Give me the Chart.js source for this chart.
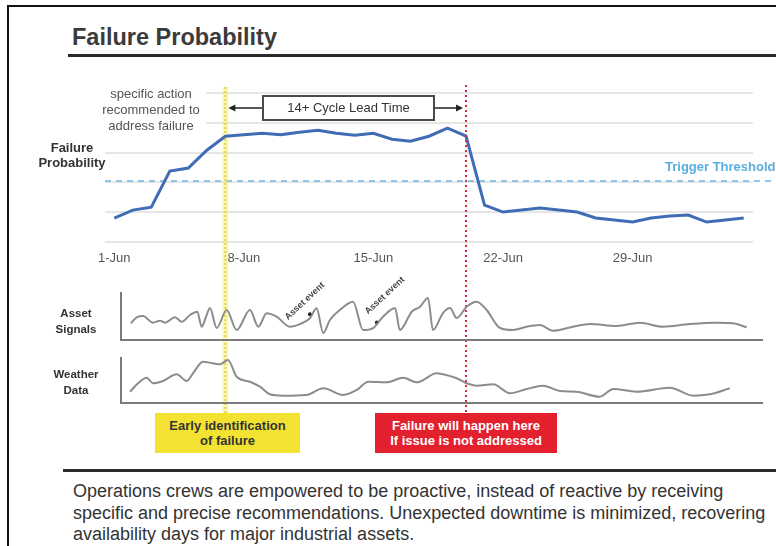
<!DOCTYPE html>
<html>
<head>
<meta charset="utf-8">
<script src="https://cdn.jsdelivr.net/npm/chart.js"></script>
<style>
  body { margin: 0; background: #fff; }
  #page { position: relative; width: 776px; height: 546px; overflow: hidden; background: #fff;
          font-family: "Liberation Sans", Arial, Helvetica, sans-serif; color: #333; }
  .abs { position: absolute; }
  .frame { left: 7px; top: 5px; width: 900px; height: 700px; border-left: 2px solid #111; border-top: 2px solid #111; }
  .rule { background: #2a2a2a; height: 3px; width: 800px; }
  #title { left: 72px; top: 23px; font-size: 23.5px; line-height: 28px; font-weight: bold; color: #3b3b3b; white-space: nowrap; }
  #ylab { left: 30px; width: 84px; top: 140px; text-align: center; font-size: 13px; line-height: 15px; font-weight: bold; color: #333; }
  #note { left: 96px; width: 110px; top: 86px; text-align: center; font-size: 13px; line-height: 16px; color: #555; background: #fff; }
  #leadbox { left: 262px; top: 95px; width: 173px; height: 26px; box-sizing: border-box; border: 2px solid #4a4a4a;
             background: #fff; text-align: center; font-size: 13px; line-height: 22px; color: #333; }
  .plab { left: 40px; width: 72px; text-align: center; font-size: 11.5px; line-height: 16px; font-weight: bold; color: #333; }
  .tag { height: 40px; box-sizing: border-box; padding-top: 5px; text-align: center; font-size: 13px; line-height: 15px; font-weight: bold; }
  #early { left: 155px; top: 413px; width: 145px; background: #f3e232; color: #333; }
  #fail { left: 375px; top: 413px; width: 182px; background: #e2202e; color: #fff; }
  #para { left: 73px; top: 481px; font-size: 18px; line-height: 21.5px; color: #333; white-space: nowrap; }
  canvas { position: absolute; left: 0; }
</style>
</head>
<body>
<div id="page">
  <div class="abs frame"></div>
  <div class="abs" id="title">Failure Probability</div>
  <div class="abs rule" style="left:68px;top:54px"></div>

  <canvas id="mainChart" width="776" height="335" style="top:80px"></canvas>
  <canvas id="assetChart" width="776" height="85" style="top:265px"></canvas>
  <canvas id="weatherChart" width="776" height="70" style="top:345px"></canvas>

  <div class="abs" id="ylab">Failure<br>Probability</div>
  <div class="abs" id="note">specific action<br>recommended to<br>address failure</div>
  <div class="abs" id="leadbox">14+ Cycle Lead Time</div>
  <div class="abs plab" style="top:305px">Asset<br>Signals</div>
  <div class="abs plab" style="top:366px">Weather<br>Data</div>
  <div class="abs tag" id="early">Early identification<br>of failure</div>
  <div class="abs tag" id="fail">Failure will happen here<br>If issue is not addressed</div>
  <div class="abs rule" style="left:63px;top:469px"></div>
  <div class="abs" id="para">Operations crews are empowered to be proactive, instead of reactive by receiving<br>specific and precise recommendations. Unexpected downtime is minimized, recovering<br>availability days for major industrial assets.</div>
</div>

<script>
// days counted from 1-Jun (0)
const tickDays = [0, 7, 14, 21, 28];
const tickLabels = ['1-Jun', '8-Jun', '15-Jun', '22-Jun', '29-Jun'];

// failure probability (%) per day
const failureProb = [16.1, 21.4, 23.4, 47.6, 49.6, 61.6, 71, 72, 73, 72, 73.7, 75, 73, 71.7, 73, 69, 67.7,
  71, 76.4, 71, 24.8, 20.1, 21.4, 22.8, 21.4, 20.1, 16.1, 14.7, 13.4, 16.1, 17.4, 18.1, 13.4, 14.7, 16.1];
const thresholdValue = 41;
const earlyDay = 6;     // 7-Jun
const failureDay = 19;  // 20-Jun
const leadArrowValue = 90;

// asset signals
const assetDays = [0.89, 1.21, 1.55, 2.09, 2.47, 2.74, 3.28, 3.64, 4.09, 4.48, 4.72, 4.99, 5.17, 5.53, 6.07, 6.61,
  7.33, 7.78, 8.23, 8.77, 9.49, 10.12, 10.57, 10.93, 11.29, 11.65, 12.19, 12.9, 13.44, 13.98, 14.52, 15.17, 15.43,
  16.07, 16.52, 16.95, 17.22, 17.76, 18.14, 18.5, 19.04, 19.58, 20.12, 20.84, 21.54, 22.28, 23, 23.7, 24.78, 25.7,
  27.14, 28.4, 29.64, 31.1, 32.54, 33.43, 34.17];
const assetValues = [35.5, 48.3, 51.1, 36.8, 41.1, 36.8, 48.3, 38.9, 53.2, 60.2, 28.3, 53.2, 68.1, 25.5, 63.8, 21.3,
  63.8, 28.3, 56.8, 49.6, 28.3, 35.5, 46.2, 67.4, 14.9, 42.6, 63.8, 81.5, 21.3, 25.5, 49.6, 68.1, 21.3,
  60.2, 70.9, 89.4, 21.3, 57.4, 68.1, 46.8, 70.9, 81.5, 63.8, 25.5, 21.3, 28.3, 31.9, 19.8, 28.3, 34,
  29.8, 36.8, 28.3, 34, 36.8, 35.5, 27];
const assetEventDays = [10.57, 14.19];
const assetEventValues = [55, 37];
const assetEventLabels = ['Asset event', 'Asset event'];

// weather data
const weatherDays = [0.85, 1.28, 1.75, 2.09, 2.63, 3.37, 3.91, 4.25, 4.79, 5.33, 5.71, 6.14, 6.61, 7.33, 7.87, 8.41,
  9.11, 10.39, 11.29, 12.37, 13.1, 13.72, 14.72, 15.61, 16.34, 17.42, 17.77, 18.5, 19.04, 19.58, 20.48, 21.38,
  22.28, 23.18, 24.08, 24.98, 26.24, 26.96, 28.22, 30.02, 31.28, 32.18, 33.26];
const weatherValues = [25.1, 43.8, 56.2, 43.8, 48.9, 63.8, 48.9, 66, 91.8, 88.2, 86, 95.6, 58.4, 47.3, 36.2, 19.3,
  16.2, 17.8, 32.7, 17.8, 28.9, 47.3, 46, 56.2, 46, 66, 63.8, 54.9, 43.8, 38.4, 41.6, 21.6,
  31.1, 38.4, 26.7, 25.1, 14, 31.1, 25.1, 34, 16.2, 19.3, 32.7];

const FONT = '"Liberation Sans", Arial, Helvetica, sans-serif';

const mainMarks = {
  id: 'mainMarks',
  beforeDatasetsDraw(chart) {
    const { ctx, chartArea, scales: { x, y } } = chart;
    ctx.save();
    // trigger threshold
    const ty = y.getPixelForValue(thresholdValue);
    ctx.strokeStyle = '#6cb4e0';
    ctx.lineWidth = 1.5;
    ctx.setLineDash([6, 5]);
    ctx.beginPath();
    ctx.moveTo(chartArea.left, ty);
    ctx.lineTo(chart.width, ty);
    ctx.stroke();
    // early identification line
    const yx = x.getPixelForValue(earlyDay);
    ctx.setLineDash([]);
    ctx.strokeStyle = 'rgba(246,234,110,0.45)';
    ctx.lineWidth = 6;
    ctx.beginPath();
    ctx.moveTo(yx, chartArea.top - 6);
    ctx.lineTo(yx, chart.height);
    ctx.stroke();
    ctx.strokeStyle = '#e6d52a';
    ctx.lineWidth = 2;
    ctx.setLineDash([2, 2]);
    ctx.beginPath();
    ctx.moveTo(yx, chartArea.top - 6);
    ctx.lineTo(yx, chart.height);
    ctx.stroke();
    ctx.restore();
  },
  afterDatasetsDraw(chart) {
    const { ctx, chartArea, scales: { x, y } } = chart;
    ctx.save();
    // failure line
    const rx = x.getPixelForValue(failureDay);
    ctx.strokeStyle = '#d8283c';
    ctx.lineWidth = 2;
    ctx.setLineDash([2, 3]);
    ctx.beginPath();
    ctx.moveTo(rx, chartArea.top - 8);
    ctx.lineTo(rx, chart.height);
    ctx.stroke();
    ctx.setLineDash([]);

    // lead time arrows
    const yx = x.getPixelForValue(earlyDay);
    const ay = y.getPixelForValue(leadArrowValue);
    ctx.strokeStyle = '#222';
    ctx.fillStyle = '#222';
    ctx.lineWidth = 1.5;
    ctx.beginPath();
    ctx.moveTo(262, ay); ctx.lineTo(yx + 8, ay);
    ctx.moveTo(435, ay); ctx.lineTo(rx - 8, ay);
    ctx.stroke();
    ctx.beginPath();
    ctx.moveTo(yx + 3, ay); ctx.lineTo(yx + 10, ay - 3.5); ctx.lineTo(yx + 10, ay + 3.5); ctx.closePath();
    ctx.moveTo(rx - 3, ay); ctx.lineTo(rx - 10, ay - 3.5); ctx.lineTo(rx - 10, ay + 3.5); ctx.closePath();
    ctx.fill();

    // threshold label
    const ty = y.getPixelForValue(thresholdValue);
    ctx.font = 'bold 13px ' + FONT;
    ctx.fillStyle = '#5aaee0';
    ctx.textBaseline = 'alphabetic';
    ctx.fillText('Trigger Threshold', 665, ty - 10);
    ctx.restore();
  }
};

const eventLabels = {
  id: 'eventLabels',
  afterDatasetsDraw(chart) {
    const { ctx, scales: { x, y } } = chart;
    ctx.save();
    ctx.font = 'bold 9px ' + FONT;
    ctx.fillStyle = '#444';
    ctx.textAlign = 'left';
    ctx.textBaseline = 'alphabetic';
    assetEventDays.forEach((d, i) => {
      const px = x.getPixelForValue(d);
      const py = y.getPixelForValue(assetEventValues[i]);
      ctx.save();
      ctx.translate(px - (i === 0 ? 22 : 9), py + (i === 0 ? 6 : -8));
      ctx.rotate(-0.75);
      ctx.fillText(assetEventLabels[i], 0, 0);
      ctx.restore();
    });
    ctx.restore();
  }
};

new Chart(document.getElementById('mainChart'), {
  type: 'line',
  data: {
    datasets: [{
      data: failureProb.map((v, i) => ({ x: i, y: v })),
      borderColor: '#3f6cb4',
      borderWidth: 3,
      pointRadius: 0,
      tension: 0
    }]
  },
  options: {
    responsive: false,
    animation: false,
    layout: { padding: { top: 13, left: 105, right: 23, bottom: 139.4 } },
    plugins: { legend: { display: false }, tooltip: { enabled: false } },
    scales: {
      x: {
        type: 'linear', min: -0.5, max: 34.5,
        grid: { display: false, drawTicks: false },
        border: { display: false },
        afterBuildTicks: s => { s.ticks = tickDays.map(v => ({ value: v })); },
        ticks: {
          padding: 9, color: '#555', font: { size: 13, family: FONT },
          callback: v => tickLabels[tickDays.indexOf(v)]
        }
      },
      y: {
        min: 0, max: 100,
        ticks: { display: false, stepSize: 20 },
        grid: { color: '#e6e6e6', lineWidth: 2, drawTicks: false },
        border: { display: false }
      }
    }
  },
  plugins: [mainMarks]
});

function panel(id, days, values, extra, plugins, padTop, padBottom) {
  const datasets = [{
    data: days.map((d, i) => ({ x: d, y: values[i] })),
    borderColor: '#8c8c8c',
    borderWidth: 2,
    pointRadius: 0,
    cubicInterpolationMode: 'monotone'
  }].concat(extra);
  return new Chart(document.getElementById(id), {
    type: 'line',
    data: { datasets },
    options: {
      responsive: false,
      animation: false,
      layout: { padding: { top: padTop, left: 121, right: 14, bottom: padBottom } },
      plugins: { legend: { display: false }, tooltip: { enabled: false } },
      scales: {
        x: {
          type: 'linear', min: 0.36, max: 35,
          ticks: { display: false },
          grid: { display: false, drawTicks: false },
          border: { color: '#7b7b7b', width: 2 }
        },
        y: {
          min: 0, max: 100,
          ticks: { display: false },
          grid: { display: false, drawTicks: false },
          border: { color: '#7b7b7b', width: 2 }
        }
      }
    },
    plugins
  });
}

panel('assetChart', assetDays, assetValues, [{
  type: 'scatter',
  data: assetEventDays.map((d, i) => ({ x: d, y: assetEventValues[i] })),
  pointRadius: 2,
  pointBackgroundColor: '#222',
  pointBorderWidth: 0
}], [eventLabels], 28, 10);

panel('weatherChart', weatherDays, weatherValues, [], [], 13, 12);
</script>
</body>
</html>
